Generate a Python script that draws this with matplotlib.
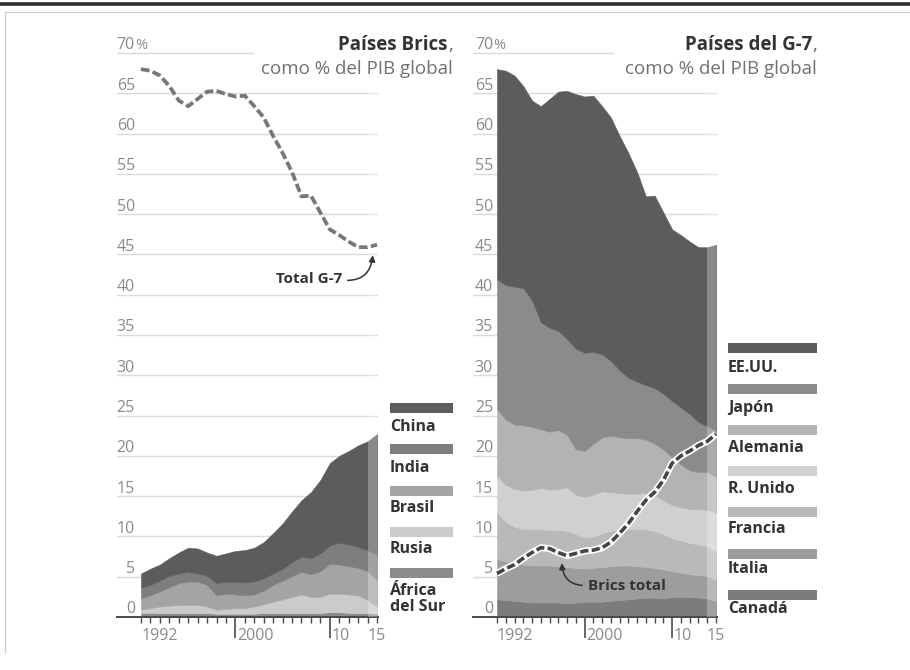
import matplotlib
matplotlib.use('Agg')
import matplotlib.pyplot as plt
from matplotlib.patches import Rectangle
from matplotlib.lines import Line2D

plt.rcParams['font.family'] = ['Open Sans', 'DejaVu Sans']

# ---------------- data ----------------
years = list(range(1990, 2016))

# BRICS, % of global GDP (stack bottom -> top)
africa_sur = [0.5, 0.5, 0.5, 0.5, 0.5, 0.5, 0.5, 0.5, 0.4, 0.4, 0.4, 0.4, 0.4,
              0.5, 0.5, 0.5, 0.5, 0.5, 0.5, 0.5, 0.6, 0.6, 0.5, 0.5, 0.5, 0.4]
rusia = [0.4, 0.6, 0.8, 0.9, 1.0, 1.0, 1.0, 0.8, 0.5, 0.6, 0.7, 0.7, 0.9,
         1.1, 1.4, 1.7, 2.0, 2.3, 2.0, 2.0, 2.3, 2.3, 2.3, 2.2, 1.6, 0.9]
brasil = [1.4, 1.6, 1.9, 2.3, 2.7, 2.9, 2.9, 2.7, 1.8, 1.9, 1.7, 1.6, 1.5,
          1.7, 2.1, 2.3, 2.6, 2.8, 2.8, 3.2, 3.7, 3.6, 3.5, 3.4, 3.6, 3.3]
india = [1.3, 1.3, 1.3, 1.4, 1.2, 1.2, 1.0, 1.1, 1.5, 1.5, 1.5, 1.6, 1.6,
         1.5, 1.4, 1.5, 1.7, 1.9, 2.0, 2.2, 2.3, 2.7, 2.7, 2.6, 2.6, 3.1]
china = [1.8, 2.0, 2.0, 2.2, 2.6, 3.0, 3.1, 2.9, 3.4, 3.5, 3.9, 4.0, 4.2,
         4.5, 5.0, 5.6, 6.3, 7.0, 8.2, 9.1, 10.2, 10.8, 11.6, 12.6, 13.5, 15.0]

# G-7, % of global GDP (stack bottom -> top)
canada = [2.2, 2.1, 2.0, 1.9, 1.8, 1.8, 1.8, 1.8, 1.7, 1.8, 1.9, 1.9, 1.9,
          2.0, 2.1, 2.2, 2.3, 2.4, 2.4, 2.3, 2.5, 2.5, 2.5, 2.4, 2.3, 2.0]
italia = [5.0, 4.8, 4.7, 4.6, 4.6, 4.6, 4.6, 4.5, 4.5, 4.3, 4.1, 4.2, 4.3,
          4.3, 4.3, 4.2, 4.0, 3.8, 3.7, 3.6, 3.2, 3.0, 2.8, 2.8, 2.8, 2.6]
francia = [5.8, 4.9, 4.5, 4.4, 4.5, 4.5, 4.4, 4.5, 4.5, 4.2, 3.9, 3.9, 4.2,
           4.4, 4.5, 4.5, 4.6, 4.7, 4.6, 4.4, 4.1, 4.0, 3.9, 3.8, 3.7, 3.5]
r_unido = [4.5, 4.6, 4.7, 4.8, 4.9, 5.1, 5.0, 5.1, 5.4, 4.9, 5.0, 5.2, 5.2,
           4.8, 4.5, 4.4, 4.4, 4.5, 4.4, 4.2, 4.1, 4.1, 4.2, 4.4, 4.5, 4.8]
alemania = [8.3, 8.1, 8.0, 8.1, 7.8, 7.3, 7.2, 7.3, 6.5, 5.6, 5.7, 6.3, 6.7,
            7.0, 6.9, 6.9, 6.9, 6.6, 6.4, 6.3, 5.9, 5.3, 4.8, 4.6, 4.7, 4.5]
japon = [16.1, 16.7, 17.1, 17.0, 15.7, 13.3, 12.9, 12.3, 11.9, 12.5, 12.2, 11.4, 10.3,
         9.3, 8.3, 7.5, 7.0, 6.8, 6.9, 6.9, 7.0, 7.1, 7.0, 6.2, 5.7, 5.7]
eeuu = [26.1, 26.6, 26.2, 25.1, 24.8, 26.8, 28.4, 29.7, 30.8, 31.6, 31.8, 31.8, 30.8,
        30.2, 29.1, 27.9, 26.0, 23.4, 23.9, 22.5, 21.3, 21.4, 21.4, 21.7, 22.2, 23.1]

brics_series = [africa_sur, rusia, brasil, india, china]
brics_labels = ['África\ndel Sur', 'Rusia', 'Brasil', 'India', 'China']
g7_series = [canada, italia, francia, r_unido, alemania, japon, eeuu]
g7_labels = ['Canadá', 'Italia', 'Francia', 'R. Unido', 'Alemania', 'Japón', 'EE.UU.']

y_ticks = [0, 5, 10, 15, 20, 25, 30, 35, 40, 45, 50, 55, 60, 65, 70]
x_tick_labels = [(1992, '1992'), (2000, '2000'), (2010, '10'), (2015, '15')]
major_years = [2000, 2010]
forecast_year = 2014

brics_total = [sum(v) for v in zip(*brics_series)]
g7_total = [sum(v) for v in zip(*g7_series)]

# ---------------- style ----------------
brics_colors = ['#8c8c8c', '#cbcbcb', '#a4a4a4', '#7e7e7e', '#5c5c5c']
g7_colors = ['#7c7c7c', '#9d9d9d', '#b9b9b9', '#d0d0d0', '#b3b3b3', '#8b8b8b', '#5c5c5c']
W, H = 910, 670
fig = plt.figure(figsize=(W / 100, H / 100), dpi=100)


def fx(x):
    return x / W


def fy(y):
    return 1 - y / H


# frame
fig.add_artist(Line2D([0, 1], [fy(4), fy(4)], color='#2e2e2e', lw=2.6, transform=fig.transFigure))
fig.add_artist(Line2D([fx(5), 1], [fy(12), fy(12)], color='#cfcfcf', lw=0.9, transform=fig.transFigure))
fig.add_artist(Line2D([fx(5), fx(5)], [fy(12), fy(652)], color='#cfcfcf', lw=0.9, transform=fig.transFigure))

YMAX = 72
PX_PER_UNIT = 8.057
Y0 = 617  # pixel row of value 0
ax_top = Y0 - YMAX * PX_PER_UNIT
TICK_GREY = '#8a8a8a'
TITLE_SIZE = 13.5
LEGEND_SIZE = 11.5


def make_axes(x_left, x_right, data_left, data_right, grid70_end, label_right):
    ax = fig.add_axes([fx(x_left), fy(Y0), (x_right - x_left) / W, (Y0 - ax_top) / H])
    ppy = (data_right - data_left) / (years[-1] - years[0])
    ax.set_xlim(years[0] - (data_left - x_left) / ppy, years[-1] + (x_right - data_right) / ppy)
    ax.set_ylim(0, YMAX)
    ax.patch.set_alpha(0)
    for s in ['top', 'right', 'left']:
        ax.spines[s].set_visible(False)
    ax.spines['bottom'].set_color('#4a4a4a')
    ax.spines['bottom'].set_linewidth(1.4)
    ax.set_yticks([])
    for v in y_ticks[1:]:
        xmax = grid70_end if v == 70 else 1.0
        ax.axhline(v, xmin=0, xmax=xmax, color='#dadada', lw=1.0, zorder=0)
    lx = (label_right - x_left) / (x_right - x_left)
    for v in y_ticks:
        ax.text(lx, v + 0.45, str(v), transform=ax.get_yaxis_transform(), ha='right',
                va='baseline', fontsize=11.5, color=TICK_GREY)
    ax.text(lx, 70 + 0.45, '%', transform=ax.get_yaxis_transform(), ha='left',
            va='baseline', fontsize=10.5, color=TICK_GREY)
    # x ticks
    ax.set_xticks(major_years)
    ax.set_xticklabels([])
    ax.set_xticks([y for y in years if y not in major_years], minor=True)
    ax.tick_params(axis='x', which='major', length=15, width=1.2, color='#4a4a4a', direction='out')
    ax.tick_params(axis='x', which='minor', length=4, width=1.0, color='#4a4a4a', direction='out')
    for yr, lab in x_tick_labels:
        if yr in major_years:
            ax.annotate(lab, xy=(yr, 0), xycoords=('data', 'axes fraction'), xytext=(1.2, -13.5),
                        textcoords='offset points', ha='left', va='center', fontsize=11.5,
                        color=TICK_GREY)
        else:
            ax.annotate(lab, xy=(yr, 0), xycoords=('data', 'axes fraction'), xytext=(0, -13.5),
                        textcoords='offset points', ha='center', va='center', fontsize=11.5,
                        color=TICK_GREY)
    return ax


# ---------------- left panel: BRICS ----------------
axL = make_axes(117, 378, 141, 377, (253 - 117) / 261, 135)
polys = axL.stackplot(years, *brics_series, colors=brics_colors, lw=0, zorder=2)
for p, c in zip(polys, brics_colors):
    p.set_edgecolor(c)
    p.set_linewidth(0.4)
axL.axvspan(forecast_year, years[-1], color='white', alpha=0.28, lw=0, zorder=3)
axL.plot(years, g7_total, color='#777777', lw=2.7, dashes=(2.3, 0.9), zorder=4)
axL.annotate('Total G-7', xy=(2014.55, 44.9), xytext=(2007.8, 41.9), ha='center', va='center',
             fontsize=11, fontweight='bold', color='#333333',
             arrowprops=dict(arrowstyle='-|>', color='#333333', lw=1.1, mutation_scale=9,
                             connectionstyle='arc3,rad=0.5', relpos=(1.0, 0.45),
                             shrinkA=2, shrinkB=0))

fig.text(fx(453), fy(50), ',', ha='right', va='baseline', fontsize=TITLE_SIZE, color='#666666')
fig.text(fx(448), fy(50), 'Países Brics', ha='right', va='baseline', fontsize=TITLE_SIZE,
         fontweight='bold', color='#333333')
fig.text(fx(453), fy(74), 'como % del PIB global', ha='right', va='baseline', fontsize=TITLE_SIZE,
         color='#707070')

# legend BRICS (top -> bottom)
for i, (lab, col) in enumerate(zip(brics_labels[::-1], brics_colors[::-1])):
    top = 403 + 41.25 * i
    fig.add_artist(Rectangle((fx(390), fy(top + 10)), 63 / W, 10 / H, transform=fig.transFigure,
                             facecolor=col, edgecolor='none'))
    if '\n' in lab:
        l1, l2 = lab.split('\n')
        fig.text(fx(390), fy(595), l1, ha='left', va='baseline', fontsize=LEGEND_SIZE,
                 fontweight='bold', color='#333333')
        fig.text(fx(390), fy(611), l2, ha='left', va='baseline', fontsize=LEGEND_SIZE,
                 fontweight='bold', color='#333333')
    else:
        fig.text(fx(390), fy(431 + 40.7 * i), lab, ha='left', va='baseline', fontsize=LEGEND_SIZE,
                 fontweight='bold', color='#333333')

# ---------------- right panel: G-7 ----------------
axR = make_axes(473, 717, 497, 716, (613 - 473) / 244, 493)
polys = axR.stackplot(years, *g7_series, colors=g7_colors, lw=0, zorder=2)
for p, c in zip(polys, g7_colors):
    p.set_edgecolor(c)
    p.set_linewidth(0.4)
axR.axvspan(forecast_year, years[-1], color='white', alpha=0.28, lw=0, zorder=3)
axR.plot(years, brics_total, color='white', lw=5.0, zorder=4, solid_capstyle='butt')
axR.plot(years, brics_total, color='#454545', lw=2.6, dashes=(2.3, 0.9), zorder=5)
axR.annotate('Brics total', xy=(1997.4, 6.7), xytext=(2004.8, 3.85), ha='center', va='center',
             fontsize=11, fontweight='bold', color='#333333', zorder=6,
             arrowprops=dict(arrowstyle='-|>', color='#333333', lw=1.1, mutation_scale=9,
                             connectionstyle='arc3,rad=-0.5', relpos=(0.0, 0.55),
                             shrinkA=2, shrinkB=0))

fig.text(fx(817), fy(50), ',', ha='right', va='baseline', fontsize=TITLE_SIZE, color='#666666')
fig.text(fx(812), fy(50), 'Países del G-7', ha='right', va='baseline', fontsize=TITLE_SIZE,
         fontweight='bold', color='#333333')
fig.text(fx(817), fy(74), 'como % del PIB global', ha='right', va='baseline', fontsize=TITLE_SIZE,
         color='#707070')

for i, (lab, col) in enumerate(zip(g7_labels[::-1], g7_colors[::-1])):
    top = 343 + 41.1 * i
    fig.add_artist(Rectangle((fx(728), fy(top + 10)), 89 / W, 10 / H, transform=fig.transFigure,
                             facecolor=col, edgecolor='none'))
    fig.text(fx(728), fy(372 + 40.2 * i), lab, ha='left', va='baseline', fontsize=LEGEND_SIZE,
             fontweight='bold', color='#333333')

fig.savefig('out.png', dpi=100, facecolor='white')
